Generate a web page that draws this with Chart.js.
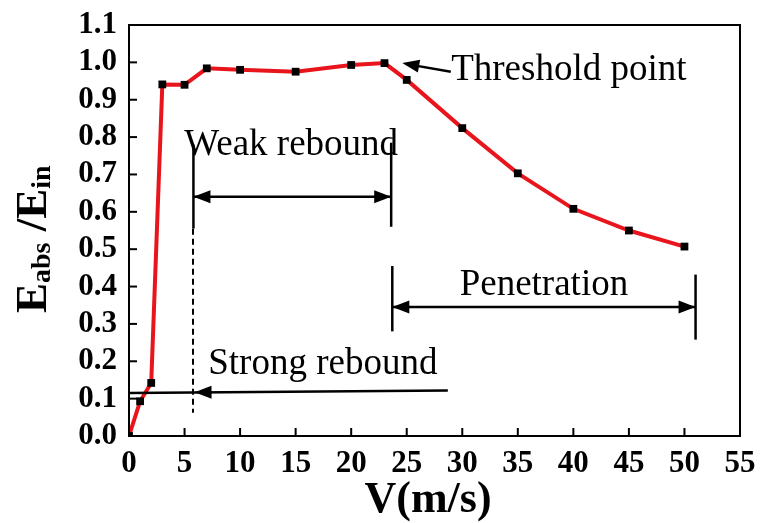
<!DOCTYPE html>
<html>
<head>
<meta charset="utf-8">
<script src="https://cdn.jsdelivr.net/npm/chart.js@4.4.0/dist/chart.umd.min.js"></script>
<style>
  body { margin: 0; background: #fff; }
</style>
</head>
<body>
<canvas id="myChart" width="760" height="523"></canvas>
<script>
// data
const velocity = [0, 1, 2, 3, 5, 7, 10, 15, 20, 23, 25, 30, 35, 40, 45, 50];
const energyRatio = [0, 0.093, 0.142, 0.941, 0.940, 0.984, 0.980, 0.975, 0.993, 0.998, 0.953, 0.824, 0.703, 0.608, 0.55, 0.507];
const xTicks = [0, 5, 10, 15, 20, 25, 30, 35, 40, 45, 50, 55];
const yTicks = [0, 0.1, 0.2, 0.3, 0.4, 0.5, 0.6, 0.7, 0.8, 0.9, 1.0, 1.1];

const serif = '"Liberation Serif", "Times New Roman", serif';

function arrowHead(ctx, x1, y1, x2, y2) {
  // filled triangle with tip at (x2, y2)
  const a = Math.atan2(y2 - y1, x2 - x1);
  const len = 17, half = 6.5;
  ctx.beginPath();
  ctx.moveTo(x2, y2);
  ctx.lineTo(x2 - len * Math.cos(a) + half * Math.sin(a), y2 - len * Math.sin(a) - half * Math.cos(a));
  ctx.lineTo(x2 - len * Math.cos(a) - half * Math.sin(a), y2 - len * Math.sin(a) + half * Math.cos(a));
  ctx.closePath();
  ctx.fill();
}

function line(ctx, x1, y1, x2, y2) {
  ctx.beginPath();
  ctx.moveTo(x1, y1);
  ctx.lineTo(x2, y2);
  ctx.stroke();
}

function noPad(s) {
  s.paddingLeft = 0;
  s.paddingRight = 0;
  s.paddingTop = 0;
  s.paddingBottom = 0;
}

const framePlugin = {
  id: "frame",
  afterDraw(chart) {
    const ctx = chart.ctx;
    const a = chart.chartArea;
    const xs = chart.scales.x, ys = chart.scales.y;
    ctx.save();
    ctx.strokeStyle = "#000";
    ctx.lineWidth = 2;
    ctx.strokeRect(a.left, a.top, a.right - a.left, a.bottom - a.top);
    // inward ticks
    xTicks.forEach((v) => {
      const px = xs.getPixelForValue(v);
      line(ctx, px, a.bottom, px, a.bottom - 8);
    });
    yTicks.forEach((v) => {
      const py = ys.getPixelForValue(v);
      line(ctx, a.left, py, a.left + 8, py);
    });
    // x title
    ctx.fillStyle = "#000";
    ctx.font = "bold 44px " + serif;
    ctx.textAlign = "center";
    ctx.textBaseline = "alphabetic";
    ctx.fillText("V(m/s)", 428, 512);
    ctx.restore();
  },
};

const notesPlugin = {
  id: "notes",
  afterDatasetsDraw(chart) {
    const ctx = chart.ctx;
    const X = (v) => chart.scales.x.getPixelForValue(v);
    const Y = (v) => chart.scales.y.getPixelForValue(v);
    ctx.save();
    ctx.strokeStyle = "#000";
    ctx.fillStyle = "#000";
    ctx.lineWidth = 2.5;
    ctx.font = "37px " + serif;
    ctx.textBaseline = "alphabetic";

    // threshold point
    line(ctx, X(28.97), Y(0.975), X(24.9), Y(0.996));
    arrowHead(ctx, X(28.97), Y(0.975), X(24.6), Y(0.998));
    ctx.textAlign = "left";
    ctx.fillText("Threshold point", X(29.0), Y(0.953));

    // weak rebound
    ctx.textAlign = "center";
    ctx.fillText("Weak rebound", X(14.6), Y(0.752));
    line(ctx, X(5.8), Y(0.78), X(5.8), Y(0.555));
    line(ctx, X(23.6), Y(0.785), X(23.6), Y(0.56));
    line(ctx, X(5.8), Y(0.64), X(23.6), Y(0.64));
    arrowHead(ctx, X(23.6), Y(0.64), X(5.8), Y(0.64));
    arrowHead(ctx, X(5.8), Y(0.64), X(23.6), Y(0.64));
    ctx.lineWidth = 2;
    ctx.setLineDash([6, 4]);
    line(ctx, Math.round(X(5.8)), Y(0.555), Math.round(X(5.8)), Y(0.062));
    ctx.setLineDash([]);
    ctx.lineWidth = 2.5;

    // penetration
    ctx.fillText("Penetration", X(37.35), Y(0.378));
    line(ctx, X(23.7), Y(0.455), X(23.7), Y(0.28));
    line(ctx, X(51.0), Y(0.432), X(51.0), Y(0.258));
    line(ctx, X(23.7), Y(0.345), X(51.0), Y(0.345));
    arrowHead(ctx, X(51.0), Y(0.345), X(23.7), Y(0.345));
    arrowHead(ctx, X(23.7), Y(0.345), X(51.0), Y(0.345));

    // strong rebound
    ctx.fillText("Strong rebound", X(17.45), Y(0.167));
    line(ctx, X(0), Y(0.115), X(28.7), Y(0.122));
    arrowHead(ctx, X(28.7), Y(0.122), X(5.9), Y(0.117));
    ctx.restore();
  },
};

const yTitlePlugin = {
  id: "ytitle",
  afterDraw(chart) {
    const ctx = chart.ctx;
    ctx.save();
    ctx.translate(46, 313);
    ctx.rotate(-Math.PI / 2);
    ctx.fillStyle = "#000";
    ctx.textAlign = "left";
    ctx.textBaseline = "alphabetic";
    const big = "bold 45px " + serif;
    const small = "bold 28px " + serif;
    let x = 0;
    const parts = [
      ["E", big, 0],
      ["abs", small, 4],
      [" /", big, 0],
      ["E", big, 0],
      ["in", small, 4],
    ];
    parts.forEach((p) => {
      ctx.font = p[1];
      ctx.fillText(p[0], x, p[2]);
      x += ctx.measureText(p[0]).width;
    });
    ctx.restore();
  },
};

const ctx = document.getElementById("myChart");
const myChart = new Chart(ctx, {
  type: "line",
  data: {
    datasets: [
      {
        data: velocity.map((v, i) => ({ x: v, y: energyRatio[i] })),
        borderColor: "#e8161c",
        borderWidth: 4,
        pointStyle: "rect",
        pointRadius: 5.5,
        pointBackgroundColor: "#000",
        pointBorderColor: "#000",
        pointBorderWidth: 0,
        tension: 0,
      },
    ],
  },
  options: {
    responsive: false,
    animation: false,
    devicePixelRatio: 1,
    layout: { padding: { top: 25, right: 20, left: 0, bottom: 0 } },
    plugins: { legend: { display: false }, tooltip: { enabled: false } },
    scales: {
      x: {
        type: "linear",
        min: 0,
        max: 55,
        afterFit: (s) => { s.height = 87; noPad(s); },
        afterBuildTicks: (s) => { s.ticks = xTicks.map((v) => ({ value: v })); },
        grid: { display: false, drawTicks: false },
        border: { display: false },
        ticks: {
          padding: 9,
          color: "#000",
          maxRotation: 0,
          autoSkip: false,
          font: { family: serif, size: 31, weight: "bold" },
        },
      },
      y: {
        min: 0,
        max: 1.1,
        afterFit: (s) => { s.width = 129; noPad(s); },
        afterBuildTicks: (s) => { s.ticks = yTicks.map((v) => ({ value: v })); },
        grid: { display: false, drawTicks: false },
        border: { display: false },
        ticks: {
          padding: 12,
          color: "#000",
          autoSkip: false,
          font: { family: serif, size: 31, weight: "bold" },
          callback: (v) => v.toFixed(1),
        },
      },
    },
  },
  plugins: [framePlugin, notesPlugin, yTitlePlugin],
});
</script>
</body>
</html>
